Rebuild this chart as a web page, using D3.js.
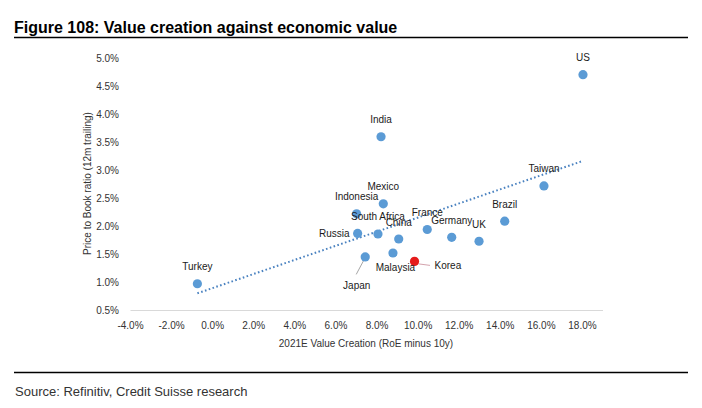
<!DOCTYPE html>
<html>
<head>
<meta charset="utf-8">
<script src="https://cdn.jsdelivr.net/npm/d3@7"></script>
<style>
  html, body { margin: 0; padding: 0; background: #fff; }
  svg { display: block; font-family: "Liberation Sans", Arial, sans-serif; }
</style>
</head>
<body>
<svg id="chart" width="702" height="408"></svg>
<script>
// ---- data ----
const countries = ["US", "India", "Taiwan", "Mexico", "Indonesia", "Brazil", "France", "Russia",
                   "South Africa", "Germany", "China", "UK", "Malaysia", "Japan", "Korea", "Turkey"];
const valueCreation = [18.05, 8.22, 16.15, 8.33, 7.03, 14.24, 10.47, 7.08,
                       8.07, 11.66, 9.08, 12.99, 8.80, 7.45, 9.85, -0.72];
const priceToBook = [4.71, 3.60, 2.72, 2.40, 2.22, 2.09, 1.94, 1.87,
                     1.86, 1.80, 1.77, 1.73, 1.52, 1.45, 1.37, 0.97];
const highlighted = ["Korea"];
const xTicks = [-4, -2, 0, 2, 4, 6, 8, 10, 12, 14, 16, 18];
const yTicks = [0.5, 1.0, 1.5, 2.0, 2.5, 3.0, 3.5, 4.0, 4.5, 5.0];

const titleText = "Figure 108: Value creation against economic value";
const xTitle = "2021E Value Creation (RoE minus 10y)";
const yTitle = "Price to Book ratio (12m trailing)";
const sourceText = "Source: Refinitiv, Credit Suisse research";

// ---- label placement (layout, not data) ----
const labelPlace = {
  "Russia": {dx: -8, dy: 0, anchor: "end"},
  "Malaysia": {dx: 2.5, dy: 15, anchor: "middle"},
  "Korea": {dx: 20, dy: 4, anchor: "start", leader: [[4, 2.5], [15.5, 4]], leaderColor: "#d4a3ad"},
  "Japan": {dx: -8.5, dy: 28.5, anchor: "middle", leader: [[-1.8, 4], [-9, 17.5]], leaderColor: "#a6a6a6"}
};
const defaultPlace = {dx: 0, dy: -17, anchor: "middle"};

const points = countries.map((c, i) => ({name: c, x: valueCreation[i], y: priceToBook[i]}));
const pct = d => d.toFixed(1) + "%";   // plain hyphen-minus like the source

const svg = d3.select("#chart");

const x = d3.scaleLinear().domain([-4, 19]).range([130, 602.5]);
const y = d3.scaleLinear().domain([0.5, 5.0]).range([310, 58.5]);

// Title
svg.append("text").attr("x", 14).attr("y", 32.5)
  .attr("font-size", 16).attr("font-weight", "bold").attr("fill", "#000")
  .text(titleText);
svg.append("line").attr("x1", 14).attr("x2", 688).attr("y1", 37.5).attr("y2", 37.5)
  .attr("stroke", "#000").attr("stroke-width", 1.3);

// X axis
const xAxis = d3.axisBottom(x).tickValues(xTicks).tickSize(0).tickPadding(0).tickFormat(pct);
const gx = svg.append("g").attr("transform", `translate(0,${y(0.5)})`).call(xAxis);
gx.select(".domain").attr("stroke", "#d9d9d9").attr("stroke-width", 1.2);
gx.selectAll("text").attr("font-size", 10).attr("fill", "#333")
  .attr("font-family", "Liberation Sans, Arial, sans-serif")
  .attr("dy", null).attr("y", 19);

// Y axis (labels only)
const yAxis = d3.axisLeft(y).tickValues(yTicks).tickSize(0).tickPadding(0).tickFormat(pct);
const gy = svg.append("g").attr("transform", `translate(119,0)`).call(yAxis);
gy.select(".domain").remove();
gy.selectAll("text").attr("font-size", 10).attr("fill", "#333")
  .attr("font-family", "Liberation Sans, Arial, sans-serif").attr("x", 0);

// Axis titles
svg.append("text").attr("x", 366).attr("y", 347)
  .attr("text-anchor", "middle").attr("font-size", 10).attr("fill", "#333")
  .text(xTitle);
svg.append("text").attr("transform", "translate(90.5,183.5) rotate(-90)")
  .attr("text-anchor", "middle").attr("font-size", 10).attr("fill", "#333")
  .text(yTitle);

// Trend line (least squares)
const mx = d3.mean(points, d => d.x), my = d3.mean(points, d => d.y);
const slope = d3.sum(points, d => (d.x - mx) * (d.y - my)) / d3.sum(points, d => (d.x - mx) ** 2);
const intercept = my - slope * mx;
const [xmin, xmax] = d3.extent(points, d => d.x);
svg.append("line")
  .attr("x1", x(xmin)).attr("y1", y(intercept + slope * xmin))
  .attr("x2", x(xmax)).attr("y2", y(intercept + slope * xmax))
  .attr("stroke", "#4a82c0").attr("stroke-width", 2)
  .attr("stroke-dasharray", "1.6,2.4");

// Leader lines
points.forEach(p => {
  const pl = labelPlace[p.name];
  if (pl && pl.leader) {
    svg.append("line")
      .attr("x1", x(p.x) + pl.leader[0][0]).attr("y1", y(p.y) + pl.leader[0][1])
      .attr("x2", x(p.x) + pl.leader[1][0]).attr("y2", y(p.y) + pl.leader[1][1])
      .attr("stroke", pl.leaderColor).attr("stroke-width", 1);
  }
});

// Points
svg.append("g").selectAll("circle").data(points).join("circle")
  .attr("cx", d => x(d.x)).attr("cy", d => y(d.y)).attr("r", 4.6)
  .attr("fill", d => highlighted.includes(d.name) ? "#e51b1b" : "#5b9bd5");

// Point labels
svg.append("g").selectAll("text").data(points).join("text")
  .attr("x", d => x(d.x) + (labelPlace[d.name] || defaultPlace).dx)
  .attr("y", d => y(d.y) + (labelPlace[d.name] || defaultPlace).dy)
  .attr("dy", "0.35em")
  .attr("text-anchor", d => (labelPlace[d.name] || defaultPlace).anchor)
  .attr("font-size", 10).attr("fill", "#1a1a1a")
  .text(d => d.name);

// Source
svg.append("line").attr("x1", 14).attr("x2", 688).attr("y1", 372.5).attr("y2", 372.5)
  .attr("stroke", "#000").attr("stroke-width", 1.3);
svg.append("text").attr("x", 15).attr("y", 396)
  .attr("font-size", 13).attr("fill", "#333")
  .text(sourceText);
</script>
</body>
</html>
